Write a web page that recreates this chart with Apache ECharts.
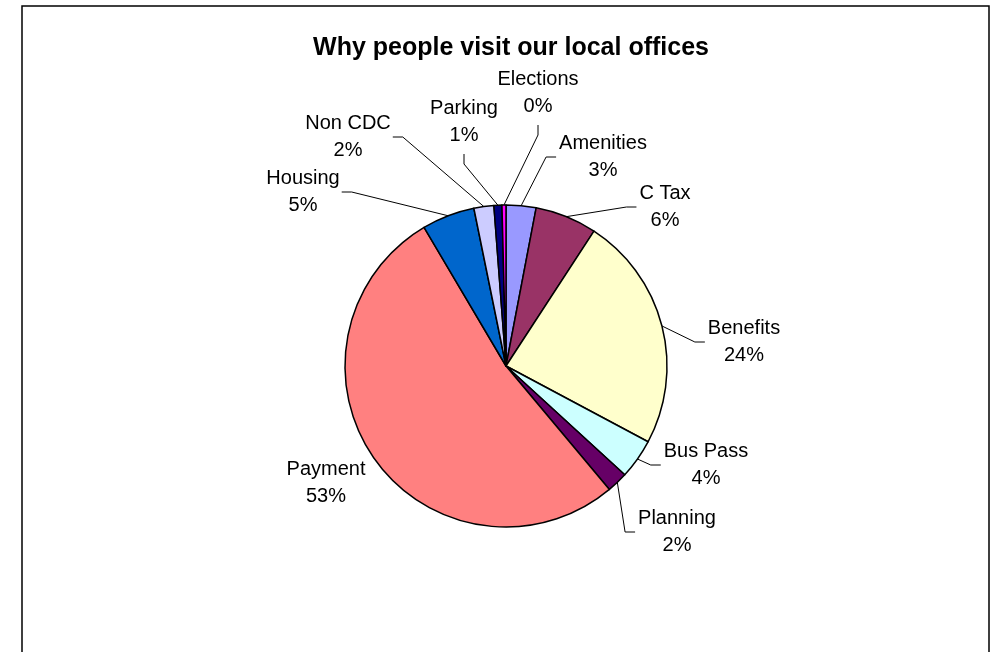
<!DOCTYPE html>
<html>
<head>
<meta charset="utf-8">
<script src="https://cdn.jsdelivr.net/npm/echarts@6/dist/echarts.min.js"></script>
<style>
  html, body { margin: 0; padding: 0; background: #fff; }
  #chart { width: 993px; height: 652px; }
</style>
</head>
<body>
<div id="chart"></div>
<script>
// Reasons for visiting, in clockwise order starting at 12 o'clock
const categories = ['Amenities', 'C Tax', 'Benefits', 'Bus Pass', 'Planning', 'Payment', 'Housing', 'Non CDC', 'Parking', 'Elections'];
// Share of visits (%)
const shares = [3.0, 6.2, 23.6, 4.0, 2.1, 52.6, 5.3, 2.0, 0.8, 0.4];
// Classic office palette for the slices
const sliceColors = ['#9999FF', '#993366', '#FFFFCC', '#CCFFFF', '#660066', '#FF8080', '#0066CC', '#CCCCFF', '#000080', '#FF00FF'];
// Label placement: [centre x, centre y, side where the leader line attaches]
const labelSpots = [
  [603, 157, 'left'],
  [665, 207, 'left'],
  [744, 342, 'left'],
  [706, 465, 'left'],
  [677, 532, 'left'],
  [326, 483, null],
  [303, 192, 'right'],
  [348, 137, 'right'],
  [464, 122, 'bottom'],
  [538, 93, 'bottom']
];

const CENTER = [506, 366];
const RADIUS = 161;
const FONT = 'Liberation Sans, Arial, sans-serif';

const total = shares.reduce((a, b) => a + b, 0);
const midAngles = [];
let acc = 0;
shares.forEach(v => { midAngles.push((acc + v / 2) / total * 2 * Math.PI); acc += v; });

// Point on the rim at the middle of slice i
function rimPoint(i) {
  const a = midAngles[i];
  return [CENTER[0] + RADIUS * Math.sin(a), CENTER[1] - RADIUS * Math.cos(a)];
}

const chart = echarts.init(document.getElementById('chart'), null, { renderer: 'canvas' });
chart.setOption({
  animation: false,
  backgroundColor: '#fff',
  title: {
    text: 'Why people visit our local offices',
    left: 506,
    top: 31,
    textAlign: 'center',
    textStyle: { fontFamily: FONT, fontSize: 25, fontWeight: 'bold', color: '#000' }
  },
  graphic: [{
    type: 'rect',
    silent: true,
    shape: { x: 22, y: 6, width: 967, height: 700 },
    style: { fill: 'none', stroke: '#000', lineWidth: 1.5 }
  }],
  series: [{
    type: 'pie',
    center: CENTER,
    radius: RADIUS,
    startAngle: 90,
    clockwise: true,
    avoidLabelOverlap: false,
    itemStyle: { borderColor: '#000', borderWidth: 1.5 },
    emphasis: { disabled: true },
    data: categories.map((name, i) => ({
      name: name,
      value: shares[i],
      itemStyle: { color: sliceColors[i] },
      labelLine: { show: labelSpots[i][2] !== null }
    })),
    label: {
      show: true,
      position: 'outside',
      formatter: p => p.name + '\n' + Math.round(p.percent) + '%',
      fontFamily: FONT,
      fontSize: 20,
      lineHeight: 27,
      color: '#000'
    },
    labelLine: {
      show: true,
      length: 10,
      length2: 10,
      smooth: false,
      lineStyle: { color: '#000', width: 1 }
    },
    labelLayout: function (p) {
      const i = p.dataIndex;
      const s = labelSpots[i];
      const w = p.labelRect.width, h = p.labelRect.height;
      const cx = s[0], cy = s[1];
      const out = { x: cx, y: cy, align: 'center', verticalAlign: 'middle' };
      let end = null, knee = null;
      if (s[2] === 'left') { end = [cx - w / 2 - 3, cy]; knee = [end[0] - 10, cy]; }
      else if (s[2] === 'right') { end = [cx + w / 2 + 2, cy]; knee = [end[0] + 10, cy]; }
      else if (s[2] === 'bottom') { end = [cx, cy + h / 2 + 5]; knee = [cx, end[1] + 10]; }
      if (end) out.labelLinePoints = [rimPoint(i), knee, end];
      return out;
    }
  }]
});
</script>
</body>
</html>
